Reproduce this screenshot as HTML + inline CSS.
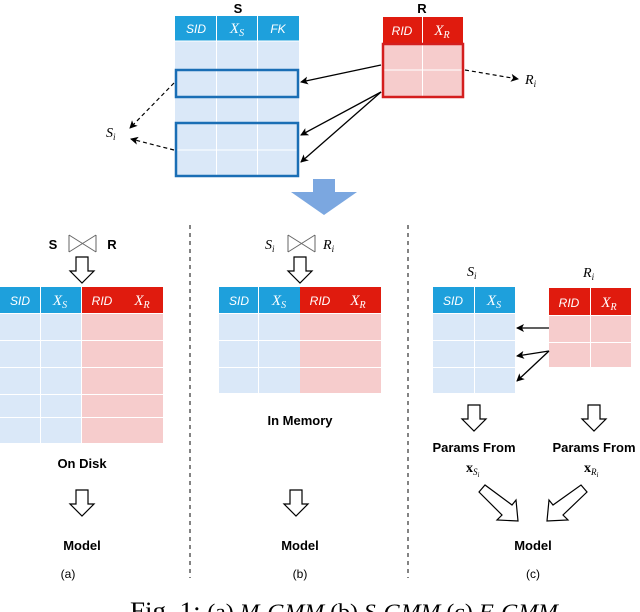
<!DOCTYPE html>
<html><head><meta charset="utf-8"><style>
html,body{margin:0;padding:0;background:#fff;width:640px;height:612px;overflow:hidden}
svg{display:block}
text{font-family:"Liberation Sans",sans-serif}
.b{font-weight:bold;font-size:13px}
.h{font-size:12px;font-style:italic;fill:#fff}
text.m{font-family:"Liberation Serif",serif;font-style:italic}
text.s{font-family:"Liberation Serif",serif}
</style></head><body>
<svg width="640" height="612" viewBox="0 0 640 612" xmlns="http://www.w3.org/2000/svg">
<defs>
<marker id="ah" markerWidth="8" markerHeight="8" refX="7" refY="4" orient="auto" markerUnits="userSpaceOnUse"><path d="M0,0 L8,4 L0,8 L2,4 z" fill="#000"/></marker>
</defs>
<text x="238" y="13" class="b" text-anchor="middle">S</text>
<rect x="175" y="16" width="124" height="25" fill="#1ea0dc"/>
<rect x="175" y="41" width="124" height="135" fill="#dae8f8"/>
<g stroke="#fff" stroke-width="1">
<line x1="216.5" y1="16" x2="216.5" y2="176"/><line x1="257.5" y1="16" x2="257.5" y2="176"/>
<line x1="175" y1="41" x2="299" y2="41"/><line x1="175" y1="150" x2="299" y2="150"/>
</g>
<text x="196" y="33" class="h" text-anchor="middle">SID</text>
<text x="237" y="33" class="m" fill="#fff" font-size="15" text-anchor="middle">X<tspan font-size="10" dy="3">S</tspan></text>
<text x="278" y="33" class="h" text-anchor="middle">FK</text>
<rect x="176" y="70" width="122" height="27" fill="none" stroke="#1a6eb5" stroke-width="2.5"/>
<rect x="176" y="123" width="122" height="53" fill="none" stroke="#1a6eb5" stroke-width="2.5"/>
<text x="422" y="13" class="b" text-anchor="middle">R</text>
<rect x="383" y="17" width="80" height="26" fill="#e01b0e"/>
<rect x="383" y="43" width="80" height="54" fill="#f6cccc"/>
<g stroke="#fff"><line x1="422.5" y1="17" x2="422.5" y2="97"/><line x1="383" y1="70" x2="463" y2="70"/></g>
<rect x="383" y="44" width="80" height="53" fill="none" stroke="#d41e1e" stroke-width="2.5"/>
<text x="402" y="35" class="h" text-anchor="middle">RID</text>
<text x="442" y="35" class="m" fill="#fff" font-size="15" text-anchor="middle">X<tspan font-size="10" dy="3">R</tspan></text>
<g stroke="#000" stroke-width="1.3" marker-end="url(#ah)">
<line x1="381" y1="65" x2="301" y2="82"/>
<line x1="381" y1="92" x2="301" y2="135"/>
<line x1="381" y1="92" x2="301" y2="162"/>
</g>
<g stroke="#000" stroke-width="1.2" stroke-dasharray="4,3" marker-end="url(#ah)">
<line x1="465" y1="70" x2="518" y2="79"/>
<line x1="174" y1="83" x2="130" y2="128"/>
<line x1="174" y1="150" x2="131" y2="139"/>
</g>
<text x="525" y="84" class="m" font-size="14">R<tspan font-size="9" dy="3">i</tspan></text>
<text x="106" y="137" class="m" font-size="14">S<tspan font-size="9" dy="3">i</tspan></text>
<path d="M313,179 L335,179 L335,192 L357,192 L324,215 L291,192 L313,192 z" fill="#7ba7e0"/>
<g stroke="#333" stroke-width="1.2" stroke-dasharray="4,4"><line x1="190" y1="225" x2="190" y2="578"/><line x1="408" y1="225" x2="408" y2="578"/></g>
<g fill="none" stroke="#666" stroke-width="1">
<path d="M69,235 L69,252 M69,235 L96,252 M69,252 L96,235 M96,235 L96,252"/>
<path d="M288,235 L288,252 M288,235 L315,252 M288,252 L315,235 M315,235 L315,252"/>
</g>
<text x="53" y="249" class="b" font-size="14" text-anchor="middle">S</text>
<text x="112" y="249" class="b" font-size="14" text-anchor="middle">R</text>
<text x="265" y="249" class="m" font-size="14">S<tspan font-size="9" dy="3">i</tspan></text>
<text x="323" y="249" class="m" font-size="14">R<tspan font-size="9" dy="3">i</tspan></text>
<g fill="#fff" stroke="#000" stroke-width="1.2">
<path d="M76,257 L88,257 L88,271 L94,271 L82,283 L70,271 L76,271 z"/>
<path d="M294,257 L306,257 L306,271 L312,271 L300,283 L288,271 L294,271 z"/>
<path d="M76,490 L88,490 L88,504 L94,504 L82,516 L70,504 L76,504 z"/>
<path d="M290,490 L302,490 L302,504 L308,504 L296,516 L284,504 L290,504 z"/>
<path d="M468,405 L480,405 L480,419 L486,419 L474,431 L462,419 L468,419 z"/>
<path d="M588,405 L600,405 L600,419 L606,419 L594,431 L582,419 L588,419 z"/>
</g>
<rect x="0" y="287" width="82" height="26" fill="#1ea0dc"/>
<rect x="82" y="287" width="81" height="26" fill="#e01b0e"/>
<rect x="0" y="313" width="82" height="130" fill="#dae8f8"/>
<rect x="82" y="313" width="81" height="130" fill="#f6cccc"/>
<g stroke="#fff"><line x1="40.5" y1="287" x2="40.5" y2="443"/><line x1="81.5" y1="287" x2="81.5" y2="443"/>
<line x1="0" y1="313.5" x2="163" y2="313.5"/><line x1="0" y1="340.5" x2="163" y2="340.5"/><line x1="0" y1="367.5" x2="163" y2="367.5"/><line x1="0" y1="394.5" x2="163" y2="394.5"/><line x1="0" y1="417.5" x2="163" y2="417.5"/></g>
<text x="20" y="305" class="h" text-anchor="middle">SID</text>
<text x="60" y="305" class="m" fill="#fff" font-size="15" text-anchor="middle">X<tspan font-size="10" dy="3">S</tspan></text>
<text x="102" y="305" class="h" text-anchor="middle">RID</text>
<text x="142" y="305" class="m" fill="#fff" font-size="15" text-anchor="middle">X<tspan font-size="10" dy="3">R</tspan></text>
<text x="82" y="468" class="b" font-size="12" text-anchor="middle">On Disk</text>
<text x="82" y="550" class="b" font-size="13" text-anchor="middle">Model</text>
<text x="68" y="578" font-size="12" text-anchor="middle">(a)</text>
<rect x="219" y="287" width="81" height="26" fill="#1ea0dc"/>
<rect x="300" y="287" width="81" height="26" fill="#e01b0e"/>
<rect x="219" y="313" width="81" height="80" fill="#dae8f8"/>
<rect x="300" y="313" width="81" height="80" fill="#f6cccc"/>
<g stroke="#fff"><line x1="258.5" y1="287" x2="258.5" y2="393"/>
<line x1="219" y1="313.5" x2="381" y2="313.5"/><line x1="219" y1="340.5" x2="381" y2="340.5"/><line x1="219" y1="367.5" x2="381" y2="367.5"/></g>
<text x="239" y="305" class="h" text-anchor="middle">SID</text>
<text x="279" y="305" class="m" fill="#fff" font-size="15" text-anchor="middle">X<tspan font-size="10" dy="3">S</tspan></text>
<text x="320" y="305" class="h" text-anchor="middle">RID</text>
<text x="358" y="305" class="m" fill="#fff" font-size="15" text-anchor="middle">X<tspan font-size="10" dy="3">R</tspan></text>
<text x="300" y="425" class="b" font-size="12" text-anchor="middle">In Memory</text>
<text x="300" y="550" class="b" font-size="13" text-anchor="middle">Model</text>
<text x="300" y="578" font-size="12" text-anchor="middle">(b)</text>
<text x="467" y="276" class="m" font-size="14">S<tspan font-size="9" dy="3">i</tspan></text>
<text x="583" y="277" class="m" font-size="14">R<tspan font-size="9" dy="3">i</tspan></text>
<rect x="433" y="287" width="82" height="26" fill="#1ea0dc"/>
<rect x="433" y="313" width="82" height="80" fill="#dae8f8"/>
<g stroke="#fff"><line x1="474.5" y1="287" x2="474.5" y2="393"/><line x1="433" y1="313.5" x2="515" y2="313.5"/><line x1="433" y1="340.5" x2="515" y2="340.5"/><line x1="433" y1="367.5" x2="515" y2="367.5"/></g>
<text x="453" y="305" class="h" text-anchor="middle">SID</text>
<text x="494" y="305" class="m" fill="#fff" font-size="15" text-anchor="middle">X<tspan font-size="10" dy="3">S</tspan></text>
<rect x="549" y="288" width="82" height="27" fill="#e01b0e"/>
<rect x="549" y="315" width="82" height="52" fill="#f6cccc"/>
<g stroke="#fff"><line x1="590.5" y1="288" x2="590.5" y2="367"/><line x1="549" y1="315.5" x2="631" y2="315.5"/><line x1="549" y1="342.5" x2="631" y2="342.5"/></g>
<text x="569" y="307" class="h" text-anchor="middle">RID</text>
<text x="609" y="307" class="m" fill="#fff" font-size="15" text-anchor="middle">X<tspan font-size="10" dy="3">R</tspan></text>
<g stroke="#000" stroke-width="1.3" marker-end="url(#ah)">
<line x1="549" y1="328" x2="517" y2="328"/>
<line x1="549" y1="351" x2="517" y2="356"/>
<line x1="549" y1="351" x2="517" y2="381"/>
</g>
<text x="474" y="452" class="b" font-size="13" text-anchor="middle">Params From</text>
<text x="594" y="452" class="b" font-size="13" text-anchor="middle">Params From</text>
<text x="466" y="472" class="s" font-weight="bold" font-size="14">x<tspan font-weight="normal" font-style="italic" font-size="9" dy="3">S</tspan><tspan font-style="italic" font-weight="normal" font-size="7" dy="2">i</tspan></text>
<text x="584" y="472" class="s" font-weight="bold" font-size="14">x<tspan font-weight="normal" font-style="italic" font-size="9" dy="3">R</tspan><tspan font-style="italic" font-weight="normal" font-size="7" dy="2">i</tspan></text>
<g fill="#fff" stroke="#000" stroke-width="1.2">
<path d="M479,492 L485,485 L512,505 L516,500 L518,521 L497,520 L502,515 z"/>
<path d="M581,485 L587,492 L563,515 L568,520 L547,521 L549,500 L553,505 z"/>
</g>
<text x="533" y="550" class="b" font-size="13" text-anchor="middle">Model</text>
<text x="533" y="578" font-size="12" text-anchor="middle">(c)</text>
<text x="130" y="619" class="s" font-size="25" textLength="428" lengthAdjust="spacingAndGlyphs">Fig. 1: <tspan font-size="22">(a) <tspan font-style="italic">M-GMM</tspan> (b) <tspan font-style="italic">S-GMM</tspan> (c) <tspan font-style="italic">F-GMM</tspan></tspan></text>
</svg>
</body></html>
